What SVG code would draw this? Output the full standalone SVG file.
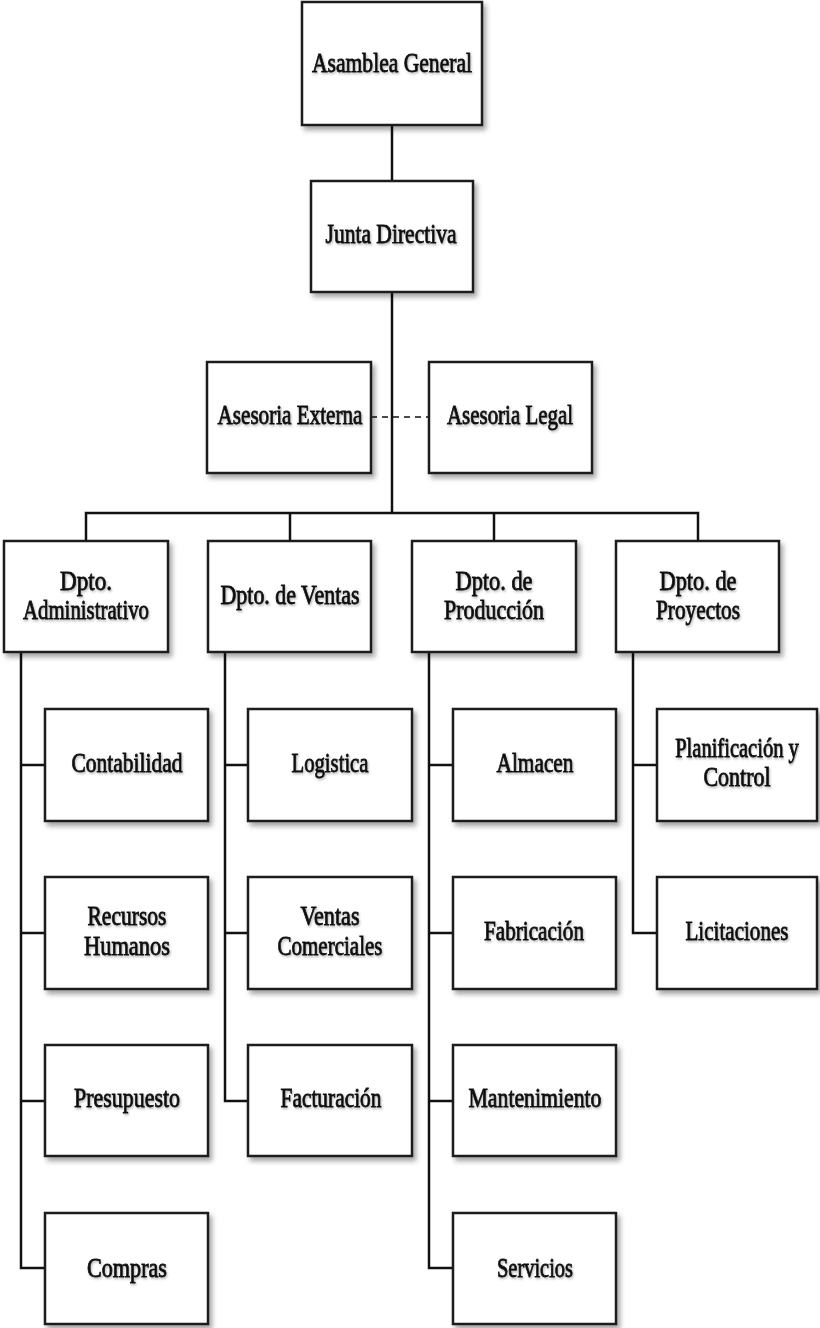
<svg xmlns="http://www.w3.org/2000/svg" width="820" height="1328" viewBox="0 0 820 1328">
  <style>
    .box { fill: #ffffff; stroke: #1a1a1a; stroke-width: 2.5; filter: url(#shadow); }
    .lbl { font-family: "Liberation Serif", "Times New Roman", serif; font-size: 27px; fill: #111111; stroke: #111111; stroke-width: 0.8; text-anchor: middle; filter: url(#tshadow); }
    .line { fill: none; stroke: #111111; stroke-width: 2.5; }
    .dash { fill: none; stroke: #111111; stroke-width: 1.6; stroke-dasharray: 6 5; }
  </style>
  <defs>
    <filter id="shadow" x="-5%" y="-5%" width="115%" height="115%">
      <feDropShadow dx="3" dy="4" stdDeviation="2.5" flood-color="#000000" flood-opacity="0.35"/>
    </filter>
    <filter id="tshadow" x="-3%" y="-20%" width="108%" height="140%">
      <feDropShadow dx="1" dy="1.5" stdDeviation="1" flood-color="#000000" flood-opacity="0.3"/>
    </filter>
  </defs>
  <rect width="820" height="1328" fill="#ffffff"/>

  <!-- connectors -->
  <g id="connectors">
    <path class="line" d="M392 125 V181"/>
    <path class="line" d="M392 292 V513"/>
    <path class="dash" d="M371 417 H429"/>
    <path class="line" d="M86 541 V513 H698 V541"/>
    <path class="line" d="M290 513 V541"/>
    <path class="line" d="M494 513 V541"/>
    <!-- administrativo -->
    <path class="line" d="M21 652 V1268 H45"/>
    <path class="line" d="M21 765 H45 M21 933 H45 M21 1101 H45"/>
    <!-- ventas -->
    <path class="line" d="M225 652 V1101 H248"/>
    <path class="line" d="M225 765 H248 M225 933 H248"/>
    <!-- produccion -->
    <path class="line" d="M429 652 V1268 H453"/>
    <path class="line" d="M429 765 H453 M429 933 H453 M429 1101 H453"/>
    <!-- proyectos -->
    <path class="line" d="M633 652 V933 H657"/>
    <path class="line" d="M633 765 H657"/>
  </g>

  <g id="asamblea">
    <rect class="box" x="302" y="2" width="180" height="123"/>
    <text class="lbl" x="392" y="72" textLength="160" lengthAdjust="spacingAndGlyphs">Asamblea General</text>
  </g>
  <g id="junta">
    <rect class="box" x="311" y="181" width="162" height="111"/>
    <text class="lbl" x="391" y="243" textLength="131" lengthAdjust="spacingAndGlyphs">Junta Directiva</text>
  </g>
  <g id="asesoria-externa">
    <rect class="box" x="207" y="362" width="164" height="111"/>
    <text class="lbl" x="290" y="424" textLength="145" lengthAdjust="spacingAndGlyphs">Asesoria Externa</text>
  </g>
  <g id="asesoria-legal">
    <rect class="box" x="429" y="362" width="163" height="111"/>
    <text class="lbl" x="510" y="424" textLength="126" lengthAdjust="spacingAndGlyphs">Asesoria Legal</text>
  </g>

  <g id="dpto-administrativo">
    <rect class="box" x="4" y="541" width="164" height="111"/>
    <text class="lbl" x="86" y="590" textLength="52" lengthAdjust="spacingAndGlyphs">Dpto.</text>
    <text class="lbl" x="86" y="619" textLength="126" lengthAdjust="spacingAndGlyphs">Administrativo</text>
  </g>
  <g id="dpto-ventas">
    <rect class="box" x="208" y="541" width="163" height="111"/>
    <text class="lbl" x="290" y="604" textLength="139" lengthAdjust="spacingAndGlyphs">Dpto. de Ventas</text>
  </g>
  <g id="dpto-produccion">
    <rect class="box" x="412" y="541" width="164" height="111"/>
    <text class="lbl" x="494" y="590" textLength="77" lengthAdjust="spacingAndGlyphs">Dpto. de</text>
    <text class="lbl" x="494" y="619" textLength="100" lengthAdjust="spacingAndGlyphs">Producción</text>
  </g>
  <g id="dpto-proyectos">
    <rect class="box" x="616" y="541" width="163" height="111"/>
    <text class="lbl" x="698" y="590" textLength="77" lengthAdjust="spacingAndGlyphs">Dpto. de</text>
    <text class="lbl" x="698" y="619" textLength="84" lengthAdjust="spacingAndGlyphs">Proyectos</text>
  </g>

  <!-- administrativo units -->
  <g id="contabilidad">
    <rect class="box" x="45" y="709" width="163" height="112"/>
    <text class="lbl" x="127" y="772" textLength="111" lengthAdjust="spacingAndGlyphs">Contabilidad</text>
  </g>
  <g id="recursos-humanos">
    <rect class="box" x="45" y="877" width="163" height="112"/>
    <text class="lbl" x="127" y="925" textLength="79" lengthAdjust="spacingAndGlyphs">Recursos</text>
    <text class="lbl" x="127" y="955" textLength="86" lengthAdjust="spacingAndGlyphs">Humanos</text>
  </g>
  <g id="presupuesto">
    <rect class="box" x="45" y="1045" width="163" height="111"/>
    <text class="lbl" x="127" y="1107" textLength="106" lengthAdjust="spacingAndGlyphs">Presupuesto</text>
  </g>
  <g id="compras">
    <rect class="box" x="45" y="1213" width="163" height="111"/>
    <text class="lbl" x="127" y="1277" textLength="80" lengthAdjust="spacingAndGlyphs">Compras</text>
  </g>

  <!-- ventas units -->
  <g id="logistica">
    <rect class="box" x="248" y="709" width="164" height="112"/>
    <text class="lbl" x="330" y="772" textLength="77" lengthAdjust="spacingAndGlyphs">Logistica</text>
  </g>
  <g id="ventas-comerciales">
    <rect class="box" x="248" y="877" width="164" height="112"/>
    <text class="lbl" x="330" y="925" textLength="59" lengthAdjust="spacingAndGlyphs">Ventas</text>
    <text class="lbl" x="330" y="955" textLength="105" lengthAdjust="spacingAndGlyphs">Comerciales</text>
  </g>
  <g id="facturacion">
    <rect class="box" x="248" y="1045" width="164" height="111"/>
    <text class="lbl" x="331" y="1107" textLength="101" lengthAdjust="spacingAndGlyphs">Facturación</text>
  </g>

  <!-- produccion units -->
  <g id="almacen">
    <rect class="box" x="453" y="709" width="163" height="112"/>
    <text class="lbl" x="535" y="772" textLength="77" lengthAdjust="spacingAndGlyphs">Almacen</text>
  </g>
  <g id="fabricacion">
    <rect class="box" x="453" y="877" width="163" height="112"/>
    <text class="lbl" x="534" y="940" textLength="100" lengthAdjust="spacingAndGlyphs">Fabricación</text>
  </g>
  <g id="mantenimiento">
    <rect class="box" x="453" y="1045" width="163" height="111"/>
    <text class="lbl" x="535" y="1107" textLength="133" lengthAdjust="spacingAndGlyphs">Mantenimiento</text>
  </g>
  <g id="servicios">
    <rect class="box" x="453" y="1213" width="163" height="111"/>
    <text class="lbl" x="535" y="1277" textLength="76" lengthAdjust="spacingAndGlyphs">Servicios</text>
  </g>

  <!-- proyectos units -->
  <g id="planificacion">
    <rect class="box" x="657" y="709" width="160" height="112"/>
    <text class="lbl" transform="translate(737 757) scale(0.76 1)">Planificación y</text>
    <text class="lbl" x="737" y="786" textLength="67" lengthAdjust="spacingAndGlyphs">Control</text>
  </g>
  <g id="licitaciones">
    <rect class="box" x="657" y="877" width="160" height="112"/>
    <text class="lbl" x="737" y="940" textLength="103" lengthAdjust="spacingAndGlyphs">Licitaciones</text>
  </g>
</svg>
